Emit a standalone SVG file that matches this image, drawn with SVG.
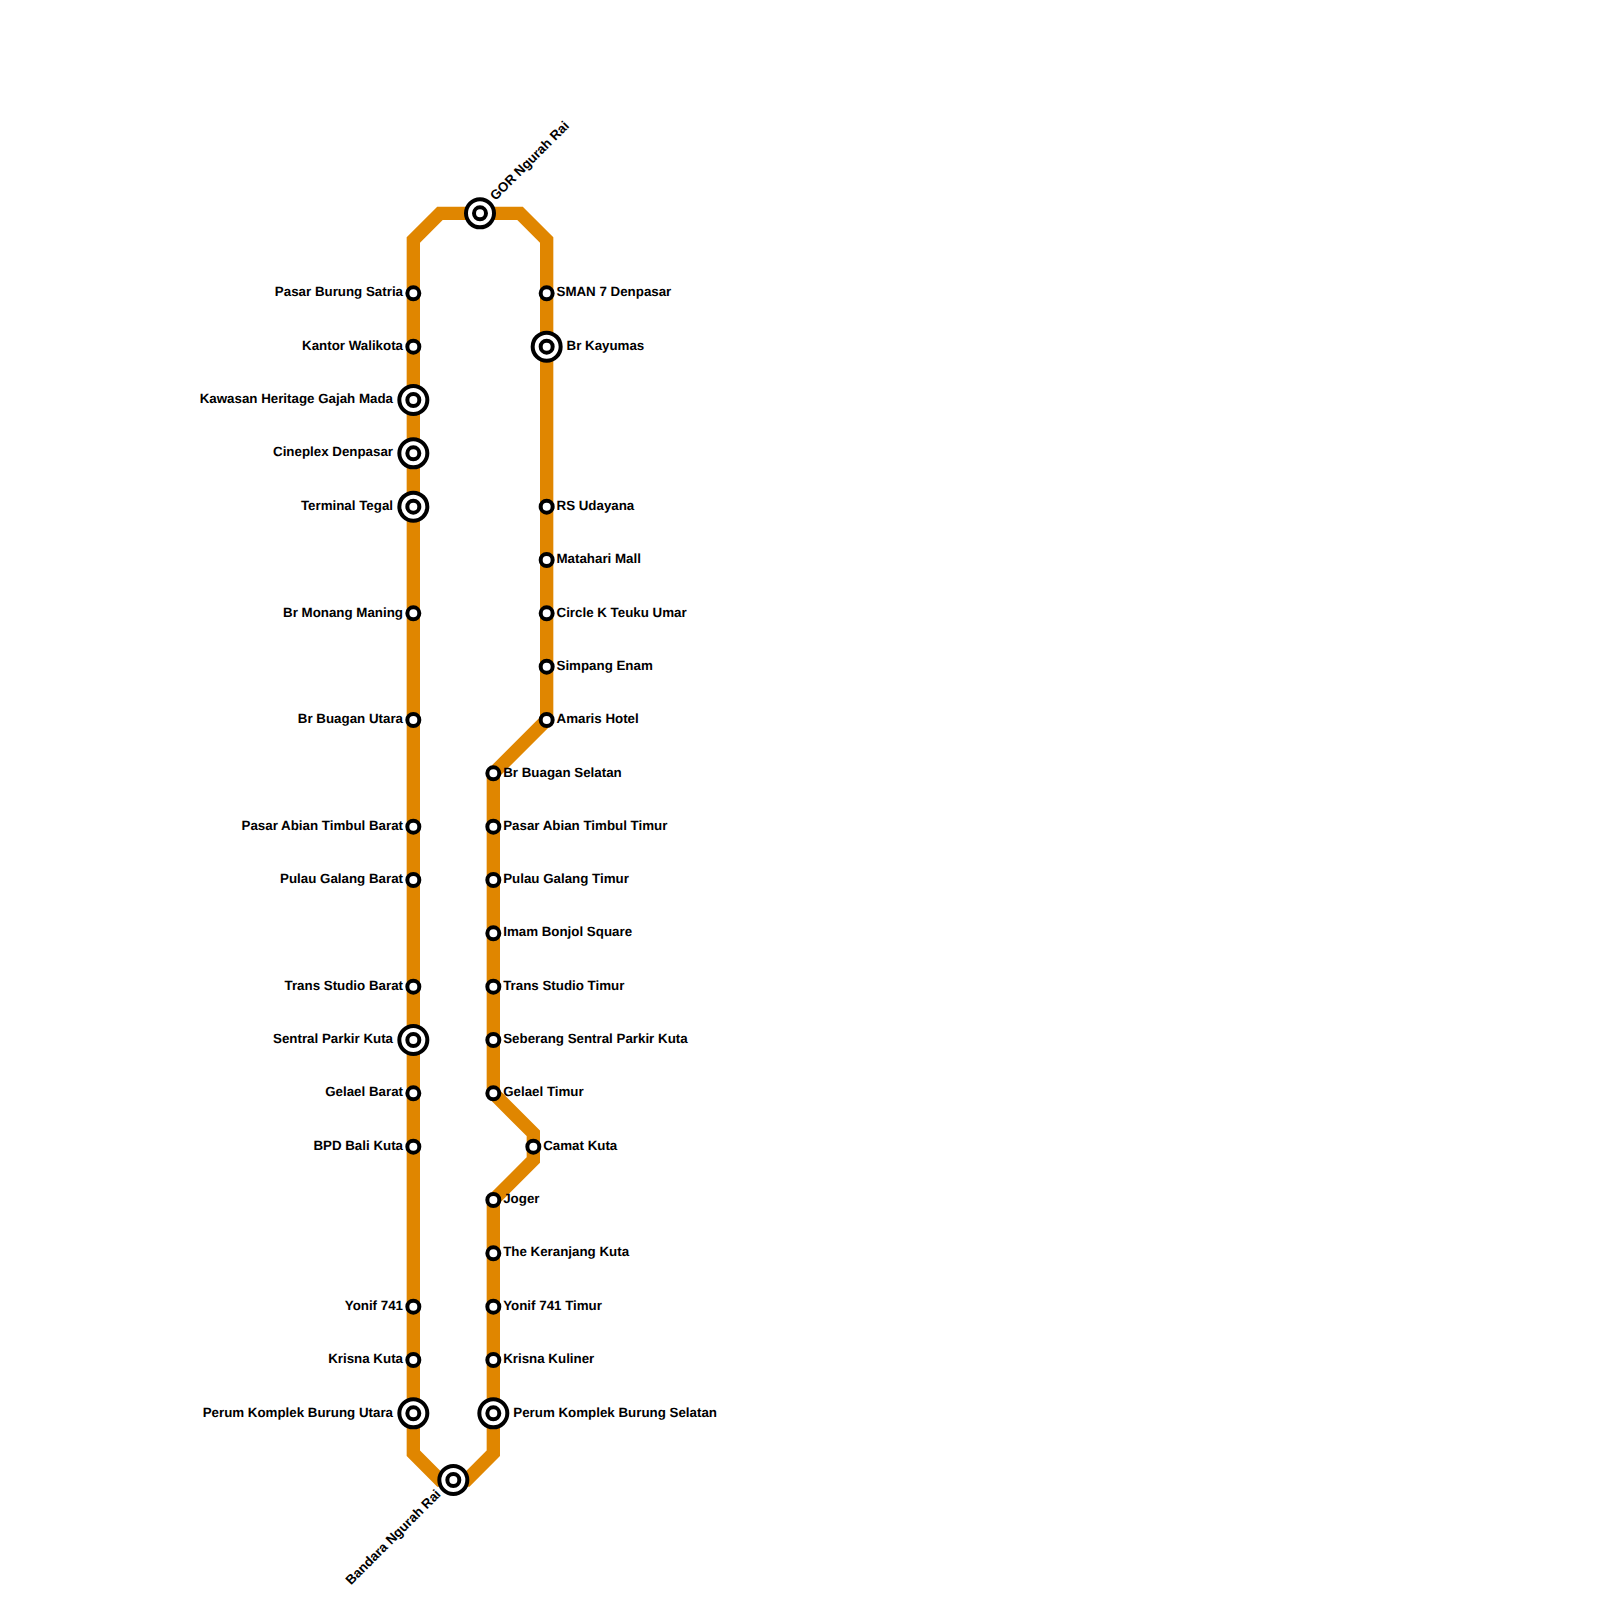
<svg xmlns="http://www.w3.org/2000/svg" width="1600" height="1600" viewBox="0 0 1600 1600">
<defs><style>
.line{fill:none;stroke:#e08600;stroke-width:13.33;stroke-linejoin:miter;stroke-linecap:butt}
.s{fill:#fff;stroke:#000;stroke-width:4}
text{font-family:"Liberation Sans",Arial,sans-serif;font-size:13.33px;font-weight:bold;fill:#000;text-rendering:geometricPrecision}
.l{text-anchor:end}
</style>
<g id="st"><circle class="s" r="6"/></g>
<g id="ic"><circle class="s" r="14"/><circle class="s" r="6"/></g>
</defs>
<rect width="1600" height="1600" fill="#fff"/>
<g id="connectors"><path class="line" d="M440 1480L413.33 1453.33V240L440 213.33H520L546.67 240V720L493.33 773.33V1093.33L533.33 1133.33V1160L493.33 1200V1453.33L466.67 1480Z"/></g>
<g id="n1"><use href="#st" x="413.33" y="293.33"/><text class="l" x="403" y="296.3">Pasar Burung Satria</text></g>
<g id="n2"><use href="#st" x="413.33" y="346.67"/><text class="l" x="403" y="349.7">Kantor Walikota</text></g>
<g id="n3"><use href="#ic" x="413.33" y="400"/><text class="l" x="393" y="403">Kawasan Heritage Gajah Mada</text></g>
<g id="n4"><use href="#ic" x="413.33" y="453.33"/><text class="l" x="393" y="456.3">Cineplex Denpasar</text></g>
<g id="n5"><use href="#ic" x="413.33" y="506.67"/><text class="l" x="393" y="509.7">Terminal Tegal</text></g>
<g id="n6"><use href="#st" x="413.33" y="613.33"/><text class="l" x="403" y="616.6">Br Monang Maning</text></g>
<g id="n7"><use href="#st" x="413.33" y="720"/><text class="l" x="403" y="723">Br Buagan Utara</text></g>
<g id="n8"><use href="#st" x="413.33" y="826.67"/><text class="l" x="403" y="829.7">Pasar Abian Timbul Barat</text></g>
<g id="n9"><use href="#st" x="413.33" y="880"/><text class="l" x="403" y="883">Pulau Galang Barat</text></g>
<g id="n10"><use href="#st" x="413.33" y="986.67"/><text class="l" x="403" y="989.7">Trans Studio Barat</text></g>
<g id="n11"><use href="#ic" x="413.33" y="1040"/><text class="l" x="393" y="1043">Sentral Parkir Kuta</text></g>
<g id="n12"><use href="#st" x="413.33" y="1093.33"/><text class="l" x="403" y="1096.3">Gelael Barat</text></g>
<g id="n13"><use href="#st" x="413.33" y="1146.67"/><text class="l" x="403" y="1149.7">BPD Bali Kuta</text></g>
<g id="n14"><use href="#st" x="413.33" y="1306.67"/><text class="l" x="403" y="1309.7">Yonif 741</text></g>
<g id="n15"><use href="#st" x="413.33" y="1360"/><text class="l" x="403" y="1363">Krisna Kuta</text></g>
<g id="n16"><use href="#ic" x="413.33" y="1413.33"/><text class="l" x="393" y="1416.6">Perum Komplek Burung Utara</text></g>
<g id="n17"><use href="#ic" x="453.33" y="1480"/><text class="l" transform="translate(441.5 1495) rotate(-45)">Bandara Ngurah Rai</text></g>
<g id="n18"><use href="#ic" x="480" y="213.33"/><text transform="translate(495.5 201) rotate(-45)">GOR Ngurah Rai</text></g>
<g id="n19"><use href="#st" x="546.67" y="293.33"/><text x="556.5" y="296.3">SMAN 7 Denpasar</text></g>
<g id="n20"><use href="#ic" x="546.67" y="346.67"/><text x="566.5" y="349.7">Br Kayumas</text></g>
<g id="n21"><use href="#st" x="546.67" y="506.67"/><text x="556.5" y="509.7">RS Udayana</text></g>
<g id="n22"><use href="#st" x="546.67" y="560"/><text x="556.5" y="563">Matahari Mall</text></g>
<g id="n23"><use href="#st" x="546.67" y="613.33"/><text x="556.5" y="616.6">Circle K Teuku Umar</text></g>
<g id="n24"><use href="#st" x="546.67" y="666.67"/><text x="556.5" y="669.7">Simpang Enam</text></g>
<g id="n25"><use href="#st" x="546.67" y="720"/><text x="556.5" y="723">Amaris Hotel</text></g>
<g id="n26"><use href="#st" x="493.33" y="773.33"/><text x="503.2" y="776.6">Br Buagan Selatan</text></g>
<g id="n27"><use href="#st" x="493.33" y="826.67"/><text x="503.2" y="829.7">Pasar Abian Timbul Timur</text></g>
<g id="n28"><use href="#st" x="493.33" y="880"/><text x="503.2" y="883">Pulau Galang Timur</text></g>
<g id="n29"><use href="#st" x="493.33" y="933.33"/><text x="503.2" y="936.3">Imam Bonjol Square</text></g>
<g id="n30"><use href="#st" x="493.33" y="986.67"/><text x="503.2" y="989.7">Trans Studio Timur</text></g>
<g id="n31"><use href="#st" x="493.33" y="1040"/><text x="503.2" y="1043">Seberang Sentral Parkir Kuta</text></g>
<g id="n32"><use href="#st" x="493.33" y="1093.33"/><text x="503.2" y="1096.3">Gelael Timur</text></g>
<g id="n33"><use href="#st" x="533.33" y="1146.67"/><text x="543.2" y="1149.7">Camat Kuta</text></g>
<g id="n34"><use href="#st" x="493.33" y="1200"/><text x="503.2" y="1203">Joger</text></g>
<g id="n35"><use href="#st" x="493.33" y="1253.33"/><text x="503.2" y="1256.3">The Keranjang Kuta</text></g>
<g id="n36"><use href="#st" x="493.33" y="1306.67"/><text x="503.2" y="1309.7">Yonif 741 Timur</text></g>
<g id="n37"><use href="#st" x="493.33" y="1360"/><text x="503.2" y="1363">Krisna Kuliner</text></g>
<g id="n38"><use href="#ic" x="493.33" y="1413.33"/><text x="513.3" y="1416.6">Perum Komplek Burung Selatan</text></g>
</svg>
